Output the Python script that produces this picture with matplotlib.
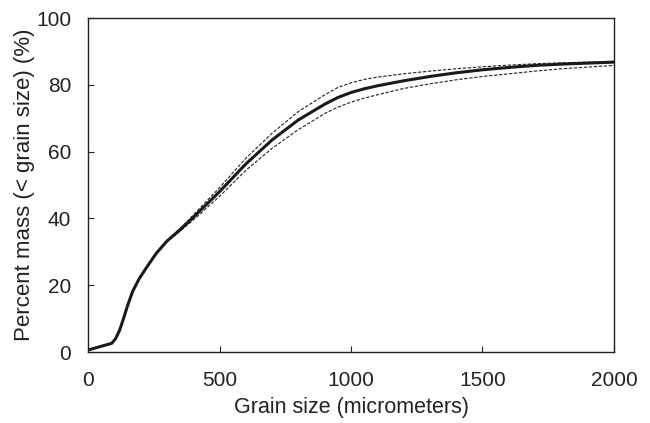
import numpy as np
import matplotlib.pyplot as plt

plt.rcParams['font.family'] = ['Liberation Sans', 'DejaVu Sans']

# grain size (micrometers)
size = [0, 90, 105, 120, 135, 150, 170, 195, 225, 260, 300, 350, 400, 500, 600, 700,
        800, 900, 950, 1000, 1050, 1100, 1200, 1300, 1400, 1500, 1600, 1700, 1800,
        1900, 2000]
# mean percent mass passing, with upper and lower bounds
mean = [0.6, 2.6, 4.0, 6.5, 10.0, 13.8, 18.2, 22.0, 25.6, 29.6, 33.2, 36.6, 40.3,
        48.0, 56.3, 63.5, 69.5, 74.2, 76.2, 77.7, 78.8, 79.7, 81.2, 82.5, 83.6,
        84.5, 85.2, 85.8, 86.2, 86.5, 86.8]
upper = [0.6, 2.6, 4.0, 6.5, 10.0, 13.8, 18.2, 22.0, 25.6, 29.6, 33.3, 37.0, 41.0,
         49.2, 58.0, 65.5, 72.0, 77.0, 79.2, 80.6, 81.6, 82.3, 83.3, 84.1, 84.8,
         85.4, 85.9, 86.3, 86.6, 86.8, 87.0]
lower = [0.6, 2.6, 4.0, 6.5, 10.0, 13.8, 18.2, 22.0, 25.6, 29.6, 33.0, 36.2, 39.5,
         46.6, 54.4, 61.0, 66.6, 71.4, 73.3, 74.8, 76.0, 77.0, 78.9, 80.3, 81.5,
         82.5, 83.3, 84.1, 84.8, 85.3, 85.8]

fig = plt.figure(figsize=(6.5, 4.23), dpi=100)
ax = fig.add_axes([0.1354, 0.1678, 0.8092, 0.7896])

ax.plot(size, upper, '--', color='#222222', linewidth=0.8, dashes=(3, 1.5))
ax.plot(size, lower, '--', color='#222222', linewidth=0.8, dashes=(3, 1.5))
ax.plot(size, mean, '-', color='#1a1a1a', linewidth=2.2, solid_joinstyle='round')

ax.set_xlim(0, 2000)
ax.set_ylim(0, 100)
ax.set_xticks(np.arange(0, 2001, 500))
ax.set_yticks(np.arange(0, 101, 20))
ax.tick_params(direction='in', length=4.5, width=0.8, labelsize=15, colors='#222222')
ax.tick_params(axis='x', pad=14)
ax.tick_params(axis='y', pad=12)
for s in ax.spines.values():
    s.set_linewidth(1.0)
    s.set_color('#222222')

ax.set_xlabel('Grain size (micrometers)', fontsize=15.5, color='#222222', labelpad=5)
ax.set_ylabel('Percent mass (< grain size) (%)', fontsize=16, color='#222222', labelpad=1)

fig.savefig('out.png', dpi=100)
